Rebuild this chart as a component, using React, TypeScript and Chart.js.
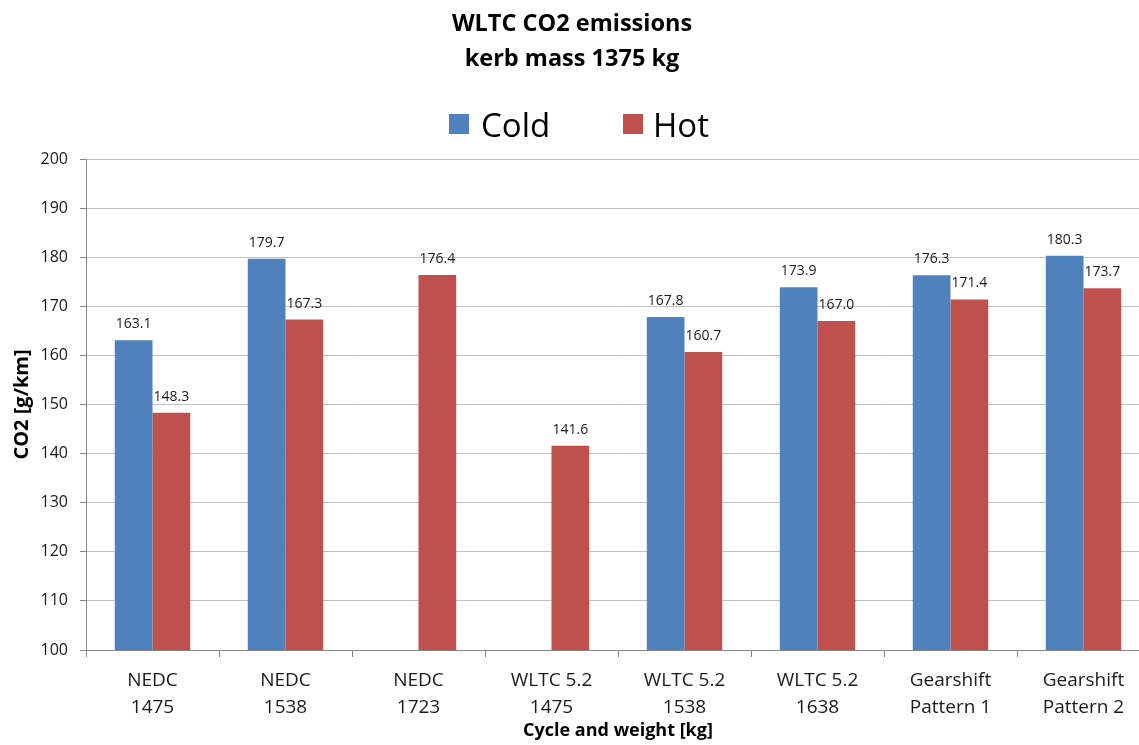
import React, { useEffect, useRef } from "react";
import { Chart, registerables } from "chart.js";

Chart.register(...registerables);

const categories: string[][] = [
  ["NEDC", "1475"],
  ["NEDC", "1538"],
  ["NEDC", "1723"],
  ["WLTC 5.2", "1475"],
  ["WLTC 5.2", "1538"],
  ["WLTC 5.2", "1638"],
  ["Gearshift", "Pattern 1"],
  ["Gearshift", "Pattern 2"],
];
const coldValues: (number | null)[] = [163.1, 179.7, null, null, 167.8, 173.9, 176.3, 180.3];
const hotValues: (number | null)[] = [148.3, 167.3, 176.4, 141.6, 160.7, 167.0, 171.4, 173.7];
const seriesNames = ["Cold", "Hot"];
const seriesColors = ["#4F81BD", "#C0504D"];
const titleLines = ["WLTC CO2 emissions", "kerb mass 1375 kg"];
const yAxisTitle = "CO2 [g/km]";
const xAxisTitle = "Cycle and weight [kg]";
const yMin = 100;
const yMax = 200;
const yStep = 10;

const FONT = "'Open Sans', 'DejaVu Sans', sans-serif";

const overlayPlugin = {
  id: "overlay",
  afterDatasetsDraw(chart: any) {
    const ctx = chart.ctx;
    ctx.save();
    ctx.font = `14px ${FONT}`;
    ctx.fillStyle = "#1a1a1a";
    ctx.textAlign = "center";
    ctx.textBaseline = "middle";
    chart.data.datasets.forEach((ds: any, i: number) => {
      const meta = chart.getDatasetMeta(i);
      meta.data.forEach((el: any, j: number) => {
        const v = ds.data[j];
        if (v == null) return;
        ctx.fillText(Number(v).toFixed(1), el.x, el.y - 16);
      });
    });
    ctx.restore();
  },
  afterDraw(chart: any) {
    const ctx = chart.ctx;
    ctx.save();
    // title
    ctx.fillStyle = "#000";
    ctx.textAlign = "center";
    ctx.textBaseline = "middle";
    ctx.font = `bold 23.5px ${FONT}`;
    ctx.fillText(titleLines[0], 572, 24);
    ctx.fillText(titleLines[1], 572, 59);
    // legend
    const boxX = [449, 623];
    const textX = [481, 653];
    ctx.font = `33px ${FONT}`;
    ctx.textAlign = "left";
    seriesNames.forEach((name, i) => {
      ctx.fillStyle = seriesColors[i];
      ctx.fillRect(boxX[i], 114, 20, 20);
      ctx.fillStyle = "#000";
      ctx.fillText(name, textX[i], 128);
    });
    ctx.restore();
  },
};

export default function App() {
  const canvasRef = useRef<HTMLCanvasElement | null>(null);

  useEffect(() => {
    if (!canvasRef.current) return;
    const chart = new Chart(canvasRef.current, {
      type: "bar",
      data: {
        labels: categories,
        datasets: [
          {
            label: seriesNames[0],
            data: coldValues,
            backgroundColor: seriesColors[0],
            categoryPercentage: 0.567,
            barPercentage: 1,
          },
          {
            label: seriesNames[1],
            data: hotValues,
            backgroundColor: seriesColors[1],
            categoryPercentage: 0.567,
            barPercentage: 1,
          },
        ],
      } as any,
      options: {
        animation: false,
        responsive: true,
        maintainAspectRatio: false,
        layout: { padding: { top: 159, left: 0, right: 0, bottom: 0 } },
        plugins: {
          legend: { display: false },
          title: { display: false },
          tooltip: { enabled: false },
        },
        scales: {
          x: {
            offset: true,
            afterFit: (s: any) => {
              s.height = 95;
            },
            border: { display: true, color: "#868686", width: 1 },
            grid: {
              offset: true,
              drawOnChartArea: false,
              drawTicks: true,
              tickLength: 7,
              color: "#868686",
            },
            ticks: {
              autoSkip: false,
              maxRotation: 0,
              minRotation: 0,
              padding: 10,
              color: "#1a1a1a",
              font: { family: FONT, size: 19, lineHeight: 1.42 },
            },
            title: {
              display: true,
              text: xAxisTitle,
              color: "#000",
              font: { family: FONT, size: 18, weight: "bold", lineHeight: 1.2 },
              padding: { top: 0, bottom: 3 },
            },
          },
          y: {
            min: yMin,
            max: yMax,
            afterFit: (s: any) => {
              s.width = 86;
            },
            border: { display: true, color: "#868686", width: 1 },
            grid: {
              color: "#C0C0C0",
              drawTicks: true,
              tickLength: 6,
              tickColor: "#868686",
            },
            ticks: {
              stepSize: yStep,
              padding: 12,
              color: "#1a1a1a",
              font: { family: FONT, size: 16 },
            },
            title: {
              display: true,
              text: yAxisTitle,
              color: "#000",
              font: { family: FONT, size: 20, weight: "bold", lineHeight: 1.2 },
              padding: { top: 10, bottom: 0 },
            },
          },
        },
      },
      plugins: [overlayPlugin],
    });
    return () => chart.destroy();
  }, []);

  return (
    <div
      style={{
        position: "fixed",
        left: 0,
        top: 0,
        width: 1139,
        height: 745,
        overflow: "hidden",
        background: "#fff",
      }}
    >
      <div style={{ position: "relative", width: 1150, height: 745 }}>
        <canvas ref={canvasRef} />
      </div>
    </div>
  );
}
